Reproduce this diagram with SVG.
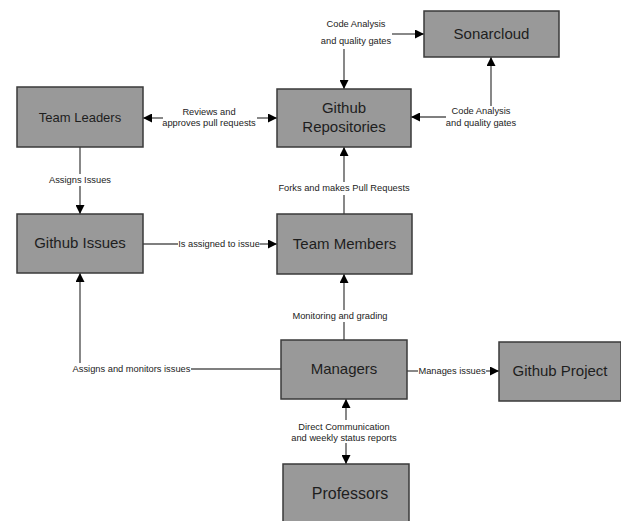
<svg xmlns="http://www.w3.org/2000/svg" width="621" height="521" viewBox="0 0 621 521">
<style>
  .box { fill: #999999; stroke: #3a3a3a; stroke-width: 1.5; }
  .nt { font-family: "Liberation Sans", Arial, sans-serif; font-size: 15px; fill: #1e1e1e; text-anchor: middle; }
  .lt { font-family: "Liberation Sans", Arial, sans-serif; font-size: 9.3px; fill: #222222; text-anchor: middle; }
  .ln { stroke: #555555; stroke-width: 1.4; fill: none; }
  .arr { marker-end: url(#ah); }
</style>
<defs>
  <marker id="ah" viewBox="0 0 10 10" refX="10" refY="5" markerWidth="9" markerHeight="9" markerUnits="userSpaceOnUse" orient="auto">
    <path d="M0,0 L10,5 L0,10 z" fill="#000000"/>
  </marker>
</defs>
<rect width="621" height="521" fill="#ffffff"/>

<g id="connectors">
  <!-- Github Repositories <-> Sonarcloud (top) -->
  <line class="ln arr" x1="392" y1="34" x2="424" y2="34"/>
  <line class="ln arr" x1="344" y1="49" x2="344" y2="89"/>
  <text class="lt" x="356" y="27.3">Code Analysis</text>
  <text class="lt" x="356" y="44.3">and quality gates</text>
  <!-- Sonarcloud <-> Github Repositories (right) -->
  <line class="ln arr" x1="491" y1="106" x2="491" y2="57"/>
  <line class="ln arr" x1="446" y1="117" x2="411" y2="117"/>
  <text class="lt" x="481" y="114.3">Code Analysis</text>
  <text class="lt" x="481" y="126.3">and quality gates</text>
  <!-- Team Leaders <-> Github Repositories -->
  <line class="ln arr" x1="163" y1="118" x2="143" y2="118"/>
  <line class="ln arr" x1="257" y1="118" x2="277" y2="118"/>
  <text class="lt" x="209" y="115.3">Reviews and</text>
  <text class="lt" x="209" y="126.3">approves pull requests</text>
  <!-- Team Leaders -> Github Issues -->
  <line class="ln" x1="80" y1="147" x2="80" y2="174"/>
  <line class="ln arr" x1="80" y1="186" x2="80" y2="214"/>
  <text class="lt" x="80" y="183.3">Assigns Issues</text>
  <!-- Github Issues -> Team Members -->
  <line class="ln" x1="143" y1="244" x2="178" y2="244"/>
  <line class="ln arr" x1="260" y1="244" x2="277" y2="244"/>
  <text class="lt" x="219" y="247.3">Is assigned to issue</text>
  <!-- Team Members -> Github Repositories -->
  <line class="ln" x1="344" y1="214" x2="344" y2="195"/>
  <line class="ln arr" x1="344" y1="182" x2="344" y2="147"/>
  <text class="lt" x="344" y="191.3">Forks and makes Pull Requests</text>
  <!-- Managers -> Team Members -->
  <line class="ln" x1="344" y1="340" x2="344" y2="322"/>
  <line class="ln arr" x1="344" y1="310" x2="344" y2="274"/>
  <text class="lt" x="340" y="319.3">Monitoring and grading</text>
  <!-- Managers -> Github Issues -->
  <line class="ln" x1="281" y1="369" x2="191" y2="369"/>
  <line class="ln arr" x1="80" y1="363" x2="80" y2="273"/>
  <text class="lt" x="131.5" y="372.3">Assigns and monitors issues</text>
  <!-- Managers -> Github Project -->
  <line class="ln" x1="407" y1="371" x2="418" y2="371"/>
  <line class="ln arr" x1="486" y1="371" x2="499" y2="371"/>
  <text class="lt" x="452" y="374.3">Manages issues</text>
  <!-- Managers <-> Professors -->
  <line class="ln arr" x1="346" y1="420" x2="346" y2="399"/>
  <line class="ln arr" x1="346" y1="443" x2="346" y2="464"/>
  <text class="lt" x="344" y="430.3">Direct Communication</text>
  <text class="lt" x="344" y="441.3">and weekly status reports</text>
</g>

<g id="sonarcloud">
  <rect class="box" x="424" y="11" width="135" height="46"/>
  <text class="nt" x="491.5" y="39.3">Sonarcloud</text>
</g>
<g id="team-leaders">
  <rect class="box" x="17" y="87" width="126" height="60"/>
  <text class="nt" x="80" y="121.6" style="font-size:13px">Team Leaders</text>
</g>
<g id="github-repositories">
  <rect class="box" x="277" y="89" width="134" height="58"/>
  <text class="nt" x="344" y="113.3">Github</text>
  <text class="nt" x="344" y="132.3">Repositories</text>
</g>
<g id="github-issues">
  <rect class="box" x="17" y="214" width="126" height="59"/>
  <text class="nt" x="80" y="248.3">Github Issues</text>
</g>
<g id="team-members">
  <rect class="box" x="277" y="214" width="135" height="60"/>
  <text class="nt" x="344.5" y="249.3">Team Members</text>
</g>
<g id="managers">
  <rect class="box" x="281" y="340" width="126" height="59"/>
  <text class="nt" x="344" y="374.3">Managers</text>
</g>
<g id="github-project">
  <rect class="box" x="499" y="342" width="122" height="59"/>
  <text class="nt" x="560" y="376.3">Github Project</text>
</g>
<g id="professors">
  <rect class="box" x="283" y="464" width="126" height="70"/>
  <text class="nt" x="350" y="498.6" style="font-size:16px">Professors</text>
</g>
</svg>
